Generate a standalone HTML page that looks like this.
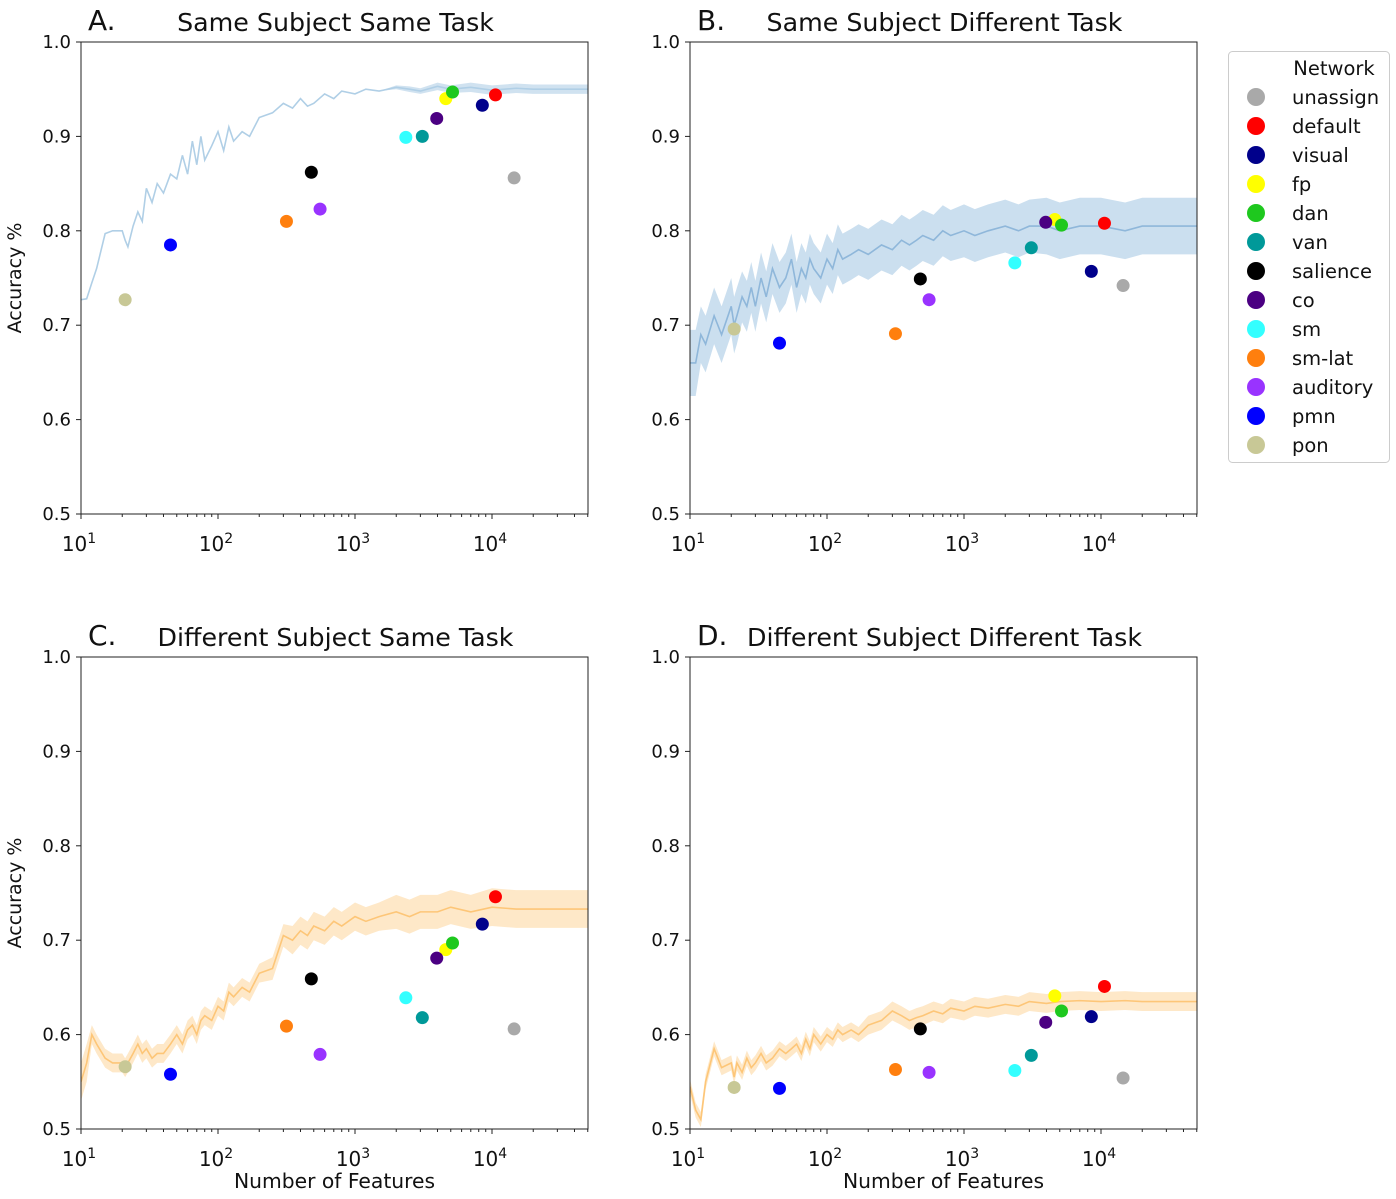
<!DOCTYPE html>
<html><head><meta charset="utf-8">
<style>
body{margin:0;background:#fff;}
svg{display:block;font-family:"DejaVu Sans","Liberation Sans",sans-serif;}
</style></head>
<body>
<svg id="chart" width="1396" height="1199"></svg>
<script>
const networks = ["unassign","default","visual","fp","dan","van","salience","co","sm","sm-lat","auditory","pmn","pon"];
const colors = ["#a9a9a9","#ff0000","#00008b","#ffff00","#1ec81e","#009999","#000000","#4b0082","#33ffff","#ff7f0e","#9933ff","#0000ff","#c8c896"];
const featureCounts = [14500,10600,8500,4600,5150,3100,480,3950,2350,316,556,45,21];
const accA = [0.856,0.944,0.933,0.940,0.947,0.900,0.862,0.919,0.899,0.810,0.823,0.785,0.727];
const accB = [0.742,0.808,0.757,0.812,0.806,0.782,0.749,0.809,0.766,0.691,0.727,0.681,0.696];
const accC = [0.606,0.746,0.717,0.690,0.697,0.618,0.659,0.681,0.639,0.609,0.579,0.558,0.566];
const accD = [0.554,0.651,0.619,0.641,0.625,0.578,0.606,0.613,0.562,0.563,0.560,0.543,0.544];

const curveX = [10,11,12,13,15,17,20,21,22,24,26,28,30,33,36,40,45,50,55,60,65,70,75,80,90,100,110,120,130,150,170,200,250,300,350,400,450,500,600,700,800,1000,1200,1500,2000,2500,3000,4000,5000,7000,10000,15000,20000,30000,50000];
const curveA = [0.727,0.728,0.745,0.76,0.797,0.8,0.8,0.79,0.783,0.805,0.82,0.81,0.845,0.83,0.85,0.84,0.86,0.855,0.88,0.86,0.895,0.87,0.9,0.875,0.89,0.905,0.885,0.91,0.895,0.905,0.9,0.92,0.925,0.935,0.93,0.94,0.932,0.935,0.945,0.94,0.948,0.945,0.95,0.948,0.952,0.95,0.948,0.953,0.95,0.952,0.949,0.951,0.95,0.95,0.95];
const bandA = [0,0,0,0,0,0,0,0,0,0,0,0,0,0,0,0,0,0,0,0,0,0,0,0,0,0,0,0,0,0,0,0,0,0,0,0,0,0,0,0,0,0,0,0,0.002,0.003,0.003,0.004,0.004,0.005,0.005,0.005,0.005,0.005,0.005];
const curveB = [0.66,0.66,0.69,0.68,0.71,0.69,0.72,0.70,0.71,0.73,0.72,0.74,0.72,0.75,0.73,0.76,0.74,0.75,0.77,0.74,0.76,0.75,0.77,0.76,0.75,0.77,0.76,0.78,0.77,0.775,0.78,0.775,0.785,0.78,0.79,0.785,0.79,0.795,0.79,0.80,0.795,0.80,0.795,0.80,0.805,0.80,0.805,0.805,0.80,0.805,0.805,0.80,0.805,0.805,0.805];
const bandB = [0.035,0.035,0.03,0.03,0.03,0.03,0.03,0.03,0.03,0.027,0.027,0.027,0.027,0.027,0.027,0.027,0.027,0.027,0.027,0.027,0.027,0.027,0.027,0.027,0.027,0.027,0.027,0.027,0.027,0.027,0.027,0.027,0.027,0.027,0.027,0.027,0.027,0.027,0.027,0.027,0.027,0.028,0.028,0.028,0.028,0.028,0.028,0.03,0.03,0.03,0.03,0.03,0.03,0.03,0.03];
const curveC = [0.55,0.57,0.60,0.59,0.575,0.57,0.57,0.565,0.57,0.58,0.59,0.58,0.585,0.575,0.58,0.58,0.59,0.60,0.59,0.605,0.61,0.60,0.615,0.62,0.615,0.63,0.625,0.645,0.64,0.65,0.645,0.665,0.67,0.705,0.70,0.71,0.705,0.715,0.71,0.72,0.715,0.725,0.72,0.725,0.73,0.725,0.73,0.73,0.735,0.73,0.735,0.733,0.733,0.733,0.733];
const bandC = [0.02,0.02,0.01,0.01,0.01,0.01,0.01,0.01,0.01,0.01,0.01,0.01,0.01,0.01,0.01,0.01,0.01,0.01,0.01,0.01,0.01,0.01,0.01,0.01,0.01,0.01,0.01,0.01,0.01,0.01,0.01,0.01,0.012,0.012,0.015,0.015,0.015,0.015,0.015,0.015,0.015,0.015,0.015,0.015,0.018,0.018,0.018,0.018,0.018,0.018,0.02,0.02,0.02,0.02,0.02];
const curveD = [0.545,0.52,0.51,0.55,0.585,0.565,0.57,0.555,0.57,0.56,0.575,0.565,0.57,0.58,0.57,0.575,0.585,0.58,0.585,0.59,0.58,0.595,0.585,0.60,0.59,0.60,0.595,0.605,0.60,0.605,0.60,0.61,0.615,0.625,0.62,0.615,0.618,0.62,0.625,0.622,0.628,0.625,0.63,0.628,0.632,0.63,0.635,0.633,0.635,0.636,0.635,0.636,0.635,0.635,0.635];
const bandD = [0.008,0.008,0.008,0.008,0.008,0.008,0.008,0.008,0.008,0.008,0.008,0.008,0.008,0.008,0.008,0.008,0.008,0.008,0.008,0.008,0.008,0.008,0.008,0.008,0.008,0.008,0.008,0.008,0.008,0.008,0.008,0.01,0.01,0.01,0.01,0.01,0.01,0.01,0.01,0.01,0.01,0.01,0.01,0.01,0.01,0.01,0.01,0.01,0.01,0.01,0.01,0.01,0.01,0.01,0.01];
const yTicks = ["0.5","0.6","0.7","0.8","0.9","1.0"];
const xTickExps = [1,2,3,4];

const NS = "http://www.w3.org/2000/svg";
const svg = document.getElementById("chart");
function mk(tag, attrs, parent){const e=document.createElementNS(NS,tag);for(const k in attrs)e.setAttribute(k,attrs[k]);(parent||svg).appendChild(e);return e;}

const panels = [
 {L:"A.",title:"Same Subject Same Task",x0:81,y0:42,cur:curveA,band:bandA,acc:accA,line:"#b0cfe6",fill:"#b0cfe6",ylab:true,xlab:false},
 {L:"B.",title:"Same Subject Different Task",x0:690,y0:42,cur:curveB,band:bandB,acc:accB,line:"#8fb7da",fill:"#a9c9e4",ylab:false,xlab:false},
 {L:"C.",title:"Different Subject Same Task",x0:81,y0:657,cur:curveC,band:bandC,acc:accC,line:"#fdc678",fill:"#fdd9a4",ylab:true,xlab:true},
 {L:"D.",title:"Different Subject Different Task",x0:690,y0:657,cur:curveD,band:bandD,acc:accD,line:"#fdc678",fill:"#fdd9a4",ylab:false,xlab:true}
];
const W=507,H=472,dec=137;

panels.forEach((p,pi)=>{
  const g=mk("g",{});
  
  
  const xs=v=>p.x0+(Math.log10(v)-1)*dec;
  const ys=v=>p.y0+H-(v-0.5)/0.5*H;
  const clip=mk("clipPath",{id:"c"+pi},g);
  mk("rect",{x:p.x0,y:p.y0,width:W,height:H},clip);
  const plot=mk("g",{"clip-path":"url(#c"+pi+")"},g);
  let up=[],dn=[];
  curveX.forEach((x,i)=>{up.push(xs(x)+","+ys(p.cur[i]+p.band[i]));dn.unshift(xs(x)+","+ys(p.cur[i]-p.band[i]));});
  const band=mk("polygon",{points:up.concat(dn).join(" "),fill:p.fill,"fill-opacity":0.6,stroke:"none"},plot);
  
  
  const ln=mk("polyline",{points:curveX.map((x,i)=>xs(x)+","+ys(p.cur[i])).join(" "),fill:"none",stroke:p.line,"stroke-width":1.6},plot);
  
  
  featureCounts.forEach((f,i)=>{
    const c=mk("circle",{cx:xs(f),cy:ys(p.acc[i]),r:6.5,fill:colors[i]},plot);
    
    
  });
  mk("rect",{x:p.x0,y:p.y0,width:W,height:H,fill:"none",stroke:"#222","stroke-width":1},g);
  yTicks.forEach(t=>{
    const y=ys(parseFloat(t));
    mk("line",{x1:p.x0-5,x2:p.x0,y1:y,y2:y,stroke:"#222"},g);
    const tx=mk("text",{x:p.x0-10,y:y+6,"text-anchor":"end","font-size":18,fill:"#111"},g);
    tx.textContent=t;
    
    
  });
  for(let e=1;e<=4;e++){for(let m=1;m<10;m++){const v=m*Math.pow(10,e);const x=xs(v);if(x>p.x0+W)break;
    mk("line",{x1:x,x2:x,y1:p.y0+H,y2:p.y0+H+(m==1?5:3),stroke:"#222"},g);}}
  xTickExps.forEach(e=>{
    const x=xs(Math.pow(10,e));
    const tx=mk("text",{x:x-2,y:p.y0+H+37,"text-anchor":"middle","font-size":20,fill:"#111"},g);
    tx.innerHTML='10<tspan dy="-8" font-size="14">'+e+'</tspan>';
    
    
  });
  const lt=mk("text",{x:p.x0+7,y:p.y0-12,"font-size":28,fill:"#111"},g);
  lt.textContent=p.L;
  
  
  const tt=mk("text",{x:p.x0+W/2+1,y:p.y0-11,"text-anchor":"middle","font-size":25.3,fill:"#111"},g);
  tt.textContent=p.title;
  
  
  if(p.ylab){const yl=mk("text",{x:0,y:0,transform:"translate(21,"+(p.y0+H/2)+") rotate(-90)","text-anchor":"middle","font-size":19,fill:"#111"},g);
    yl.textContent="Accuracy %";
    
    }
  if(p.xlab){const xl=mk("text",{x:p.x0+W/2,y:1188,"text-anchor":"middle","font-size":20.3,fill:"#111"},g);
    xl.textContent="Number of Features";
    
    }
});

const lg=mk("g",{});


mk("rect",{x:1228.5,y:51.5,width:161,height:411,rx:4,fill:"#fff",stroke:"#ccc"},lg);
const lt=mk("text",{x:1334,y:75,"text-anchor":"middle","font-size":19.5,fill:"#111"},lg);
lt.textContent="Network";
networks.forEach((n,i)=>{
  const y=97+i*29;
  const e=mk("g",{},lg);
  
  
  mk("circle",{cx:1256,cy:y,r:9,fill:colors[i]},e);
  const t=mk("text",{x:1292,y:y+7,"font-size":19.5,fill:"#111"},e);
  t.textContent=n;
});
</script>
</body></html>
